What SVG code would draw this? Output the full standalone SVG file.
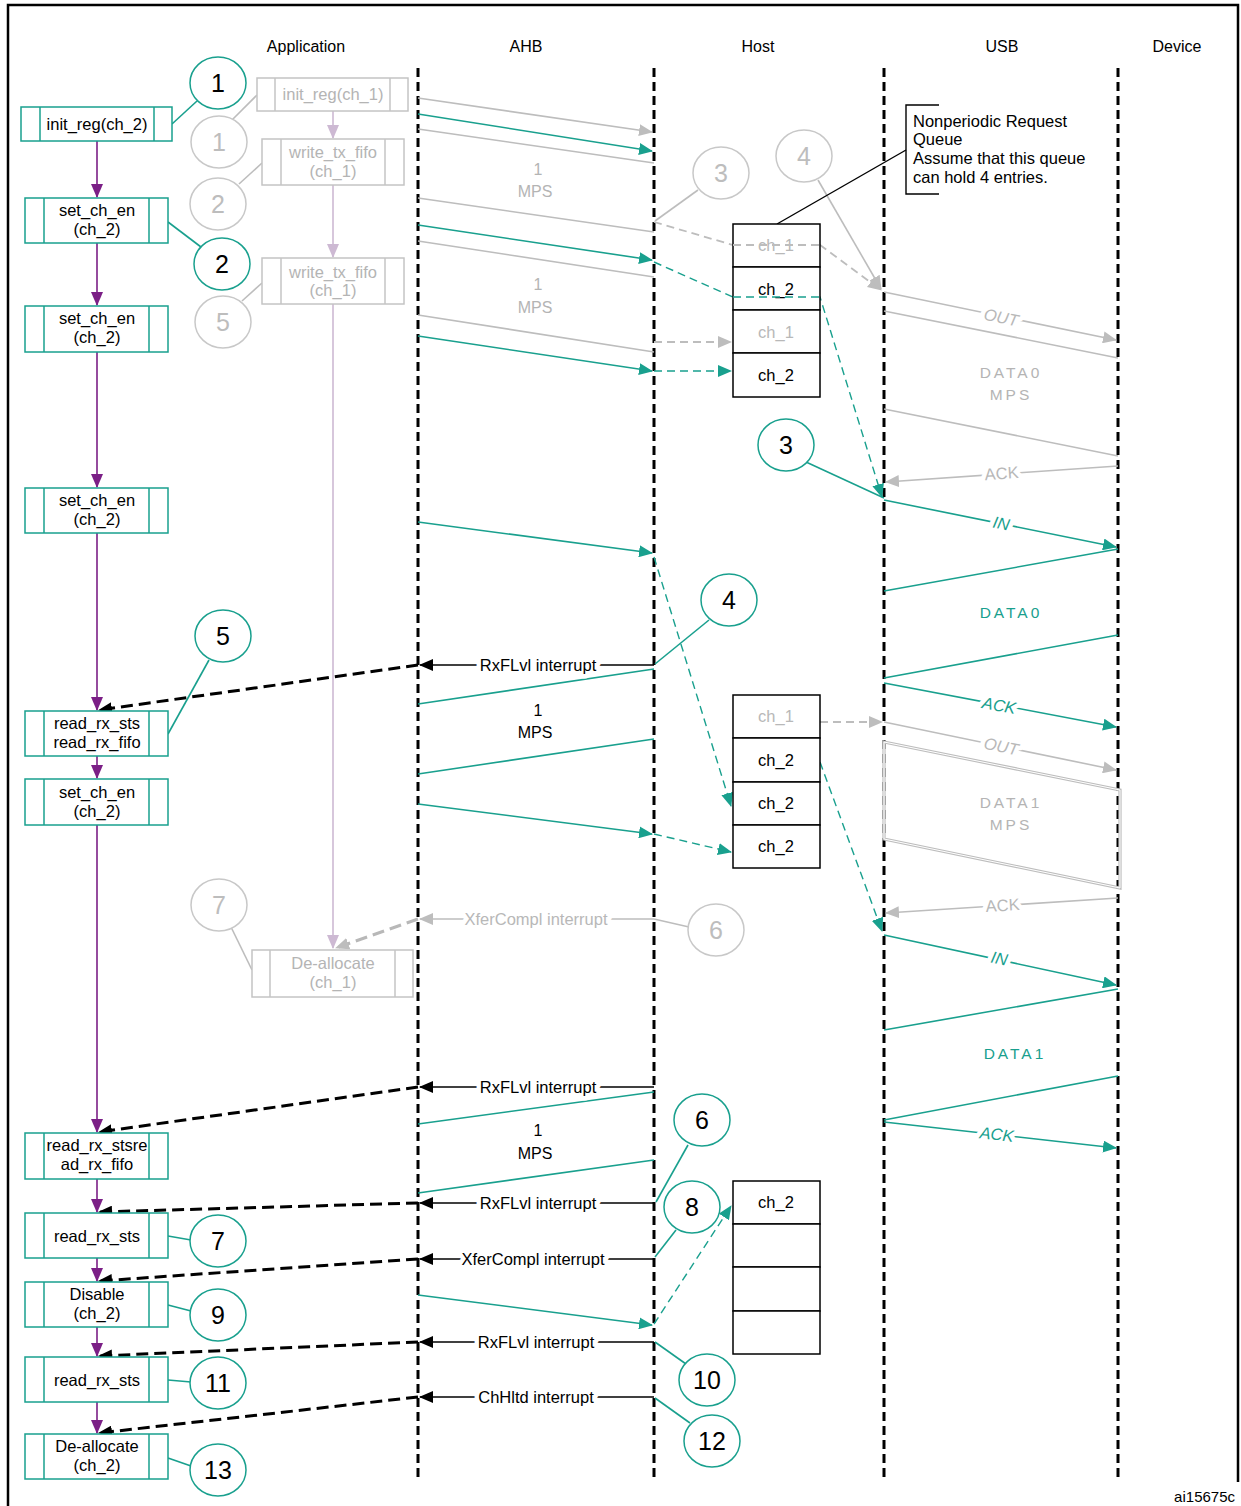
<svg xmlns="http://www.w3.org/2000/svg" width="1241" height="1506" viewBox="0 0 1241 1506">
<style>
text{font-family:"Liberation Sans",Arial,sans-serif;}
.hdr{font-size:16px;fill:#000;text-anchor:middle}
.bt{font-size:16.5px;fill:#000;text-anchor:middle}
.gt{font-size:16.5px;fill:#b4b4b4;text-anchor:middle}
.num{font-size:25px;fill:#000;text-anchor:middle}
.gnum{font-size:25px;fill:#bdbdbd;text-anchor:middle}
.tbox{fill:#fff;stroke:#19a08e;stroke-width:1.5}
.gbox{fill:#fff;stroke:#c4c4c4;stroke-width:1.5}
.tin{stroke:#19a08e;stroke-width:1.5}
.gin{stroke:#c4c4c4;stroke-width:1.5}
.tc{fill:#fff;stroke:#19a08e;stroke-width:1.5}
.gc{fill:#fff;stroke:#c8c8c8;stroke-width:1.5}
.life{stroke:#000;stroke-width:3;stroke-dasharray:9 5;fill:none}
.q{fill:#fff;stroke:#000;stroke-width:1.5}
.qt{font-size:16.5px;fill:#000;text-anchor:middle}
.qg{font-size:16.5px;fill:#b8b8b8;text-anchor:middle}
.teal{stroke:#19a08e;stroke-width:1.6;fill:none}
.grey{stroke:#bdbdbd;stroke-width:1.6;fill:none}
.tdash{stroke:#19a08e;stroke-width:1.4;fill:none;stroke-dasharray:8 5}
.gdash{stroke:#bdbdbd;stroke-width:1.8;fill:none;stroke-dasharray:8 5}
.purp{stroke:#7b1f86;stroke-width:1.6;fill:none}
.lav{stroke:#cdb9d3;stroke-width:1.6;fill:none}
.irq{stroke:#000;stroke-width:1.4;fill:none}
.bdash{stroke:#000;stroke-width:3;fill:none;stroke-dasharray:12 6}
.gbdash{stroke:#b8b8b8;stroke-width:3;fill:none;stroke-dasharray:12 6}
.lbl{font-size:16.5px;text-anchor:middle;paint-order:stroke;stroke:#fff;stroke-width:9px;stroke-linejoin:round}
.note{font-size:16.5px;fill:#000}
.data{font-size:15.5px;text-anchor:middle;letter-spacing:3px}
.mps{font-size:16px;text-anchor:middle}
</style>
<defs>
<marker id="aT" markerWidth="14" markerHeight="12" refX="13" refY="6" orient="auto" markerUnits="userSpaceOnUse"><path d="M0,0 L14,6 L0,12 z" fill="#19a08e"/></marker>
<marker id="aG" markerWidth="14" markerHeight="12" refX="13" refY="6" orient="auto" markerUnits="userSpaceOnUse"><path d="M0,0 L14,6 L0,12 z" fill="#bdbdbd"/></marker>
<marker id="aK" markerWidth="14" markerHeight="12" refX="13" refY="6" orient="auto" markerUnits="userSpaceOnUse"><path d="M0,0 L14,6 L0,12 z" fill="#000"/></marker>
<marker id="aP" markerWidth="14" markerHeight="12" refX="13" refY="6" orient="auto" markerUnits="userSpaceOnUse"><path d="M0,0 L14,6 L0,12 z" fill="#7b1f86"/></marker>
<marker id="aL" markerWidth="14" markerHeight="12" refX="13" refY="6" orient="auto" markerUnits="userSpaceOnUse"><path d="M0,0 L14,6 L0,12 z" fill="#cdb9d3"/></marker>
</defs>
<rect x="0" y="0" width="1241" height="1506" fill="#fff"/>
<!-- frame -->
<path d="M8,1506 L8,5 L1238,5 L1238,1482" fill="none" stroke="#000" stroke-width="2.5"/>
<!-- headers -->
<g id="headers">
<text class="hdr" x="306" y="52">Application</text>
<text class="hdr" x="526" y="52">AHB</text>
<text class="hdr" x="758" y="52">Host</text>
<text class="hdr" x="1002" y="52">USB</text>
<text class="hdr" x="1177" y="52">Device</text>
</g>
<!-- lifelines -->
<g id="lifelines">
<line class="life" x1="418" y1="68" x2="418" y2="1482"/>
<line class="life" x1="654" y1="68" x2="654" y2="1482"/>
<line class="life" x1="884" y1="68" x2="884" y2="1482"/>
<line class="life" x1="1118" y1="68" x2="1118" y2="1482"/>
</g>
<!-- connectors -->
<g id="connectors">
<!-- purple flow -->
<line class="purp" x1="97" y1="141" x2="97" y2="197" marker-end="url(#aP)"/>
<line class="purp" x1="97" y1="243" x2="97" y2="305" marker-end="url(#aP)"/>
<line class="purp" x1="97" y1="352" x2="97" y2="487" marker-end="url(#aP)"/>
<line class="purp" x1="97" y1="533" x2="97" y2="710" marker-end="url(#aP)"/>
<line class="purp" x1="97" y1="756" x2="97" y2="778" marker-end="url(#aP)"/>
<line class="purp" x1="97" y1="825" x2="97" y2="1132" marker-end="url(#aP)"/>
<line class="purp" x1="97" y1="1179" x2="97" y2="1212" marker-end="url(#aP)"/>
<line class="purp" x1="97" y1="1258" x2="97" y2="1281" marker-end="url(#aP)"/>
<line class="purp" x1="97" y1="1327" x2="97" y2="1356" marker-end="url(#aP)"/>
<line class="purp" x1="97" y1="1402" x2="97" y2="1433" marker-end="url(#aP)"/>
<!-- lavender ch_1 flow -->
<line class="lav" x1="333" y1="111" x2="333" y2="138" marker-end="url(#aL)"/>
<line class="lav" x1="333" y1="185" x2="333" y2="257" marker-end="url(#aL)"/>
<line class="lav" x1="333" y1="304" x2="333" y2="948" marker-end="url(#aL)"/>
<!-- AHB grey -->
<line class="grey" x1="418" y1="98" x2="652" y2="132" marker-end="url(#aG)"/>
<line class="grey" x1="418" y1="129" x2="654" y2="163"/>
<line class="grey" x1="418" y1="198" x2="654" y2="232"/>
<line class="grey" x1="418" y1="241" x2="654" y2="277"/>
<line class="grey" x1="418" y1="315" x2="654" y2="352"/>
<!-- AHB teal -->
<line class="teal" x1="418" y1="114" x2="652" y2="151" marker-end="url(#aT)"/>
<line class="teal" x1="418" y1="225" x2="652" y2="260" marker-end="url(#aT)"/>
<line class="teal" x1="418" y1="336" x2="652" y2="371" marker-end="url(#aT)"/>
<line class="teal" x1="418" y1="522" x2="652" y2="553" marker-end="url(#aT)"/>
<line class="teal" x1="418" y1="804" x2="652" y2="834" marker-end="url(#aT)"/>
<line class="teal" x1="418" y1="1295" x2="652" y2="1325" marker-end="url(#aT)"/>
<line class="teal" x1="654" y1="669" x2="418" y2="704"/>
<line class="teal" x1="654" y1="739" x2="418" y2="774"/>
<line class="teal" x1="654" y1="1092" x2="418" y2="1124"/>
<line class="teal" x1="654" y1="1160" x2="418" y2="1193"/>
<!-- host dashed -->
<polyline class="gdash" points="654,222 733,245 820,245 881,290" marker-end="url(#aG)"/>
<line class="gdash" x1="654" y1="342" x2="731" y2="342" marker-end="url(#aG)"/>
<line class="gdash" x1="820" y1="722" x2="882" y2="722" marker-end="url(#aG)"/>
<polyline class="tdash" points="654,262 733,297 820,297 882,497" marker-end="url(#aT)"/>
<line class="tdash" x1="654" y1="371" x2="731" y2="371" marker-end="url(#aT)"/>
<line class="tdash" x1="654" y1="557" x2="731" y2="806" marker-end="url(#aT)"/>
<line class="tdash" x1="654" y1="834" x2="731" y2="852" marker-end="url(#aT)"/>
<line class="tdash" x1="820" y1="762" x2="882" y2="931" marker-end="url(#aT)"/>
<line class="tdash" x1="654" y1="1324" x2="731" y2="1206" marker-end="url(#aT)"/>
<!-- USB grey -->
<line class="grey" x1="884" y1="292" x2="1116" y2="340" marker-end="url(#aG)"/>
<line class="grey" x1="884" y1="311" x2="1118" y2="358"/>
<line class="grey" x1="884" y1="409" x2="1118" y2="456"/>
<line class="grey" x1="1118" y1="466" x2="886" y2="482" marker-end="url(#aG)"/>
<line class="grey" x1="884" y1="722" x2="1116" y2="770" marker-end="url(#aG)"/>
<polygon points="884,742 1120,790 1120,888 884,839" fill="none" stroke="#bdbdbd" stroke-width="3.2"/>
<polygon points="884,742 1120,790 1120,888 884,839" fill="none" stroke="#fff" stroke-width="1"/>
<line class="grey" x1="1118" y1="898" x2="886" y2="913" marker-end="url(#aG)"/>
<!-- USB teal -->
<line class="teal" x1="884" y1="500" x2="1116" y2="547" marker-end="url(#aT)"/>
<line class="teal" x1="1118" y1="549" x2="884" y2="591"/>
<line class="teal" x1="1118" y1="635" x2="884" y2="678"/>
<line class="teal" x1="884" y1="683" x2="1116" y2="727" marker-end="url(#aT)"/>
<line class="teal" x1="884" y1="935" x2="1116" y2="985" marker-end="url(#aT)"/>
<line class="teal" x1="1118" y1="989" x2="884" y2="1030"/>
<line class="teal" x1="1118" y1="1076" x2="884" y2="1120"/>
<line class="teal" x1="884" y1="1122" x2="1116" y2="1148" marker-end="url(#aT)"/>
<!-- interrupts -->
<line class="irq" x1="654" y1="665" x2="420" y2="665" marker-end="url(#aK)"/>
<line class="irq" x1="654" y1="1087" x2="420" y2="1087" marker-end="url(#aK)"/>
<line class="irq" x1="654" y1="1203" x2="420" y2="1203" marker-end="url(#aK)"/>
<line class="irq" x1="654" y1="1259" x2="420" y2="1259" marker-end="url(#aK)"/>
<line class="irq" x1="654" y1="1342" x2="420" y2="1342" marker-end="url(#aK)"/>
<line class="irq" x1="654" y1="1397" x2="420" y2="1397" marker-end="url(#aK)"/>
<line class="grey" x1="689" y1="927" x2="654" y2="919"/>
<line class="grey" x1="654" y1="919" x2="420" y2="919" marker-end="url(#aG)"/>
<line class="bdash" x1="418" y1="665" x2="99" y2="710" marker-end="url(#aK)"/>
<line class="bdash" x1="418" y1="1087" x2="99" y2="1132" marker-end="url(#aK)"/>
<line class="bdash" x1="418" y1="1203" x2="99" y2="1212" marker-end="url(#aK)"/>
<line class="bdash" x1="418" y1="1259" x2="99" y2="1281" marker-end="url(#aK)"/>
<line class="bdash" x1="418" y1="1342" x2="99" y2="1356" marker-end="url(#aK)"/>
<line class="bdash" x1="418" y1="1397" x2="99" y2="1433" marker-end="url(#aK)"/>
<line class="gbdash" x1="418" y1="919" x2="336" y2="948" marker-end="url(#aG)"/>
<!-- circle leaders -->
<line class="teal" x1="172" y1="124" x2="197" y2="101"/>
<line class="teal" x1="168" y1="222" x2="201" y2="247"/>
<line class="teal" x1="168" y1="734" x2="209" y2="660"/>
<line class="teal" x1="806" y1="462" x2="884" y2="498"/>
<line class="teal" x1="709" y1="620" x2="655" y2="664"/>
<line class="teal" x1="688" y1="1145" x2="656" y2="1202"/>
<line class="teal" x1="676" y1="1230" x2="655" y2="1257"/>
<line class="teal" x1="655" y1="1342" x2="686" y2="1364"/>
<line class="teal" x1="655" y1="1398" x2="690" y2="1423"/>
<line class="teal" x1="168" y1="1236" x2="191" y2="1240"/>
<line class="teal" x1="168" y1="1305" x2="191" y2="1311"/>
<line class="teal" x1="168" y1="1380" x2="191" y2="1382"/>
<line class="teal" x1="168" y1="1458" x2="191" y2="1466"/>
<line class="grey" x1="232" y1="120" x2="257" y2="95"/>
<line class="grey" x1="239" y1="184" x2="262" y2="163"/>
<line class="grey" x1="242" y1="301" x2="262" y2="283"/>
<line class="grey" x1="698" y1="190" x2="655" y2="221"/>
<line class="grey" x1="818" y1="180" x2="881" y2="289" marker-end="url(#aG)"/>
<line class="grey" x1="231" y1="927" x2="252" y2="970"/>
<line x1="777" y1="224" x2="906" y2="150" stroke="#000" stroke-width="1.4"/>
</g>
<!-- connector labels -->
<g id="labels">
<text class="lbl" x="538" y="671" fill="#000">RxFLvl interrupt</text>
<text class="lbl" x="538" y="1093" fill="#000">RxFLvl interrupt</text>
<text class="lbl" x="538" y="1209" fill="#000">RxFLvl interrupt</text>
<text class="lbl" x="533" y="1265" fill="#000">XferCompl interrupt</text>
<text class="lbl" x="536" y="1348" fill="#000">RxFLvl interrupt</text>
<text class="lbl" x="536" y="1403" fill="#000">ChHltd interrupt</text>
<text class="lbl" x="536" y="925" fill="#b8b8b8">XferCompl interrupt</text>
<text class="mps" x="538" y="175" fill="#b4b4b4">1</text>
<text class="mps" x="535" y="197" fill="#b4b4b4">MPS</text>
<text class="mps" x="538" y="290" fill="#b4b4b4">1</text>
<text class="mps" x="535" y="313" fill="#b4b4b4">MPS</text>
<text class="mps" x="538" y="716" fill="#000">1</text>
<text class="mps" x="535" y="738" fill="#000">MPS</text>
<text class="mps" x="538" y="1136" fill="#000">1</text>
<text class="mps" x="535" y="1159" fill="#000">MPS</text>
<text class="lbl" fill="#b8b8b8" font-style="italic" transform="translate(1000,323) rotate(11.6)">OUT</text>
<text class="lbl" fill="#b8b8b8" transform="translate(1002,479) rotate(-3.9)">ACK</text>
<text class="lbl" fill="#19a08e" font-style="italic" transform="translate(1000,529) rotate(11.4)">IN</text>
<text class="lbl" fill="#19a08e" font-style="italic" transform="translate(998,711) rotate(10.6)">ACK</text>
<text class="lbl" fill="#b8b8b8" font-style="italic" transform="translate(1000,752) rotate(11.6)">OUT</text>
<text class="lbl" fill="#b8b8b8" transform="translate(1003,911) rotate(-3.7)">ACK</text>
<text class="lbl" fill="#19a08e" font-style="italic" transform="translate(998,964) rotate(12)">IN</text>
<text class="lbl" fill="#19a08e" font-style="italic" transform="translate(996,1140) rotate(6.3)">ACK</text>
<text class="data" x="1011" y="378" fill="#b4b4b4">DATA0</text>
<text class="data" x="1011" y="400" fill="#b4b4b4">MPS</text>
<text class="data" x="1011" y="618" fill="#19a08e">DATA0</text>
<text class="data" x="1011" y="808" fill="#b4b4b4">DATA1</text>
<text class="data" x="1011" y="830" fill="#b4b4b4">MPS</text>
<text class="data" x="1015" y="1059" fill="#19a08e">DATA1</text>
</g>
<!-- application ch_2 nodes -->
<g id="n_init_reg_ch2"><rect class="tbox" x="21" y="107" width="151" height="34"/><line class="tin" x1="40" y1="107" x2="40" y2="141"/><line class="tin" x1="154" y1="107" x2="154" y2="141"/><text class="bt" x="97" y="130">init_reg(ch_2)</text></g>
<g id="n_set_ch_en_1"><rect class="tbox" x="25" y="198" width="143" height="45"/><line class="tin" x1="44" y1="198" x2="44" y2="243"/><line class="tin" x1="149" y1="198" x2="149" y2="243"/><text class="bt" x="97" y="216">set_ch_en</text><text class="bt" x="97" y="235">(ch_2)</text></g>
<g id="n_set_ch_en_2"><rect class="tbox" x="25" y="306" width="143" height="46"/><line class="tin" x1="44" y1="306" x2="44" y2="352"/><line class="tin" x1="149" y1="306" x2="149" y2="352"/><text class="bt" x="97" y="324">set_ch_en</text><text class="bt" x="97" y="343">(ch_2)</text></g>
<g id="n_set_ch_en_3"><rect class="tbox" x="25" y="488" width="143" height="45"/><line class="tin" x1="44" y1="488" x2="44" y2="533"/><line class="tin" x1="149" y1="488" x2="149" y2="533"/><text class="bt" x="97" y="506">set_ch_en</text><text class="bt" x="97" y="525">(ch_2)</text></g>
<g id="n_read_rx_1"><rect class="tbox" x="25" y="711" width="143" height="45"/><line class="tin" x1="44" y1="711" x2="44" y2="756"/><line class="tin" x1="149" y1="711" x2="149" y2="756"/><text class="bt" x="97" y="729">read_rx_sts</text><text class="bt" x="97" y="748">read_rx_fifo</text></g>
<g id="n_set_ch_en_4"><rect class="tbox" x="25" y="779" width="143" height="46"/><line class="tin" x1="44" y1="779" x2="44" y2="825"/><line class="tin" x1="149" y1="779" x2="149" y2="825"/><text class="bt" x="97" y="798">set_ch_en</text><text class="bt" x="97" y="817">(ch_2)</text></g>
<g id="n_read_rx_2"><rect class="tbox" x="25" y="1133" width="143" height="46"/><line class="tin" x1="44" y1="1133" x2="44" y2="1179"/><line class="tin" x1="149" y1="1133" x2="149" y2="1179"/><text class="bt" x="97" y="1151">read_rx_stsre</text><text class="bt" x="97" y="1170">ad_rx_fifo</text></g>
<g id="n_read_rx_sts_1"><rect class="tbox" x="25" y="1213" width="143" height="45"/><line class="tin" x1="44" y1="1213" x2="44" y2="1258"/><line class="tin" x1="149" y1="1213" x2="149" y2="1258"/><text class="bt" x="97" y="1242">read_rx_sts</text></g>
<g id="n_disable"><rect class="tbox" x="25" y="1282" width="143" height="45"/><line class="tin" x1="44" y1="1282" x2="44" y2="1327"/><line class="tin" x1="149" y1="1282" x2="149" y2="1327"/><text class="bt" x="97" y="1300">Disable</text><text class="bt" x="97" y="1319">(ch_2)</text></g>
<g id="n_read_rx_sts_2"><rect class="tbox" x="25" y="1357" width="143" height="45"/><line class="tin" x1="44" y1="1357" x2="44" y2="1402"/><line class="tin" x1="149" y1="1357" x2="149" y2="1402"/><text class="bt" x="97" y="1386">read_rx_sts</text></g>
<g id="n_dealloc_ch2"><rect class="tbox" x="25" y="1434" width="143" height="45"/><line class="tin" x1="44" y1="1434" x2="44" y2="1479"/><line class="tin" x1="149" y1="1434" x2="149" y2="1479"/><text class="bt" x="97" y="1452">De-allocate</text><text class="bt" x="97" y="1471">(ch_2)</text></g>
<!-- application ch_1 nodes (grey) -->
<g id="n_init_reg_ch1"><rect class="gbox" x="257" y="78" width="151" height="33"/><line class="gin" x1="275" y1="78" x2="275" y2="111"/><line class="gin" x1="390" y1="78" x2="390" y2="111"/><text class="gt" x="333" y="100">init_reg(ch_1)</text></g>
<g id="n_write_tx_1"><rect class="gbox" x="262" y="139" width="142" height="46"/><line class="gin" x1="281" y1="139" x2="281" y2="185"/><line class="gin" x1="385" y1="139" x2="385" y2="185"/><text class="gt" x="333" y="158">write_tx_fifo</text><text class="gt" x="333" y="177">(ch_1)</text></g>
<g id="n_write_tx_2"><rect class="gbox" x="262" y="258" width="142" height="46"/><line class="gin" x1="281" y1="258" x2="281" y2="304"/><line class="gin" x1="385" y1="258" x2="385" y2="304"/><text class="gt" x="333" y="278">write_tx_fifo</text><text class="gt" x="333" y="296">(ch_1)</text></g>
<g id="n_dealloc_ch1"><rect class="gbox" x="252" y="950" width="161" height="47"/><line class="gin" x1="270" y1="950" x2="270" y2="997"/><line class="gin" x1="395" y1="950" x2="395" y2="997"/><text class="gt" x="333" y="969">De-allocate</text><text class="gt" x="333" y="988">(ch_1)</text></g>
<!-- host queues -->
<g id="queue1">
<rect class="q" x="733" y="224" width="87" height="43"/><rect class="q" x="733" y="267" width="87" height="43"/><rect class="q" x="733" y="310" width="87" height="43"/><rect class="q" x="733" y="353" width="87" height="44"/>
<text class="qg" x="776" y="251">ch_1</text><text class="qt" x="776" y="295">ch_2</text><text class="qg" x="776" y="338">ch_1</text><text class="qt" x="776" y="381">ch_2</text>
<line class="gdash" x1="733" y1="245" x2="820" y2="245"/>
<line class="tdash" x1="733" y1="297" x2="820" y2="297"/>
</g>
<g id="queue2">
<rect class="q" x="733" y="695" width="87" height="43"/><rect class="q" x="733" y="738" width="87" height="44"/><rect class="q" x="733" y="782" width="87" height="43"/><rect class="q" x="733" y="825" width="87" height="43"/>
<text class="qg" x="776" y="722">ch_1</text><text class="qt" x="776" y="766">ch_2</text><text class="qt" x="776" y="809">ch_2</text><text class="qt" x="776" y="852">ch_2</text>
</g>
<g id="queue3">
<rect class="q" x="733" y="1181" width="87" height="43"/><rect class="q" x="733" y="1224" width="87" height="43"/><rect class="q" x="733" y="1267" width="87" height="44"/><rect class="q" x="733" y="1311" width="87" height="43"/>
<text class="qt" x="776" y="1208">ch_2</text>
</g>
<!-- note -->
<g id="note">
<path d="M939,105 L906,105 L906,194 L939,194" fill="none" stroke="#000" stroke-width="1.4"/>
<text class="note" x="913" y="127">Nonperiodic Request</text>
<text class="note" x="913" y="145">Queue</text>
<text class="note" x="913" y="164">Assume that this queue</text>
<text class="note" x="913" y="183">can hold 4 entries.</text>
</g>
<!-- teal step circles -->
<g id="c_t1"><ellipse class="tc" cx="218" cy="83" rx="28" ry="26"/><text class="num" x="218" y="92">1</text></g>
<g id="c_t2"><ellipse class="tc" cx="222" cy="264" rx="28" ry="26"/><text class="num" x="222" y="273">2</text></g>
<g id="c_t3"><ellipse class="tc" cx="786" cy="445" rx="28" ry="26"/><text class="num" x="786" y="454">3</text></g>
<g id="c_t4"><ellipse class="tc" cx="729" cy="600" rx="28" ry="26"/><text class="num" x="729" y="609">4</text></g>
<g id="c_t5"><ellipse class="tc" cx="223" cy="636" rx="28" ry="26"/><text class="num" x="223" y="645">5</text></g>
<g id="c_t6"><ellipse class="tc" cx="702" cy="1120" rx="28" ry="26"/><text class="num" x="702" y="1129">6</text></g>
<g id="c_t7"><ellipse class="tc" cx="218" cy="1241" rx="28" ry="26"/><text class="num" x="218" y="1250">7</text></g>
<g id="c_t8"><ellipse class="tc" cx="692" cy="1207" rx="28" ry="26"/><text class="num" x="692" y="1216">8</text></g>
<g id="c_t9"><ellipse class="tc" cx="218" cy="1315" rx="28" ry="26"/><text class="num" x="218" y="1324">9</text></g>
<g id="c_t10"><ellipse class="tc" cx="707" cy="1380" rx="28" ry="26"/><text class="num" x="707" y="1389">10</text></g>
<g id="c_t11"><ellipse class="tc" cx="218" cy="1383" rx="28" ry="26"/><text class="num" x="218" y="1392">11</text></g>
<g id="c_t12"><ellipse class="tc" cx="712" cy="1441" rx="28" ry="26"/><text class="num" x="712" y="1450">12</text></g>
<g id="c_t13"><ellipse class="tc" cx="218" cy="1470" rx="28" ry="26"/><text class="num" x="218" y="1479">13</text></g>
<!-- grey step circles -->
<g id="c_g1"><ellipse class="gc" cx="219" cy="142" rx="28" ry="26"/><text class="gnum" x="219" y="151">1</text></g>
<g id="c_g2"><ellipse class="gc" cx="218" cy="204" rx="28" ry="26"/><text class="gnum" x="218" y="213">2</text></g>
<g id="c_g3"><ellipse class="gc" cx="721" cy="173" rx="28" ry="26"/><text class="gnum" x="721" y="182">3</text></g>
<g id="c_g4"><ellipse class="gc" cx="804" cy="156" rx="28" ry="26"/><text class="gnum" x="804" y="165">4</text></g>
<g id="c_g5"><ellipse class="gc" cx="223" cy="322" rx="28" ry="26"/><text class="gnum" x="223" y="331">5</text></g>
<g id="c_g6"><ellipse class="gc" cx="716" cy="930" rx="28" ry="26"/><text class="gnum" x="716" y="939">6</text></g>
<g id="c_g7"><ellipse class="gc" cx="219" cy="905" rx="28" ry="26"/><text class="gnum" x="219" y="914">7</text></g>
<text x="1235" y="1502" font-size="15" text-anchor="end" fill="#000">ai15675c</text>
</svg>
